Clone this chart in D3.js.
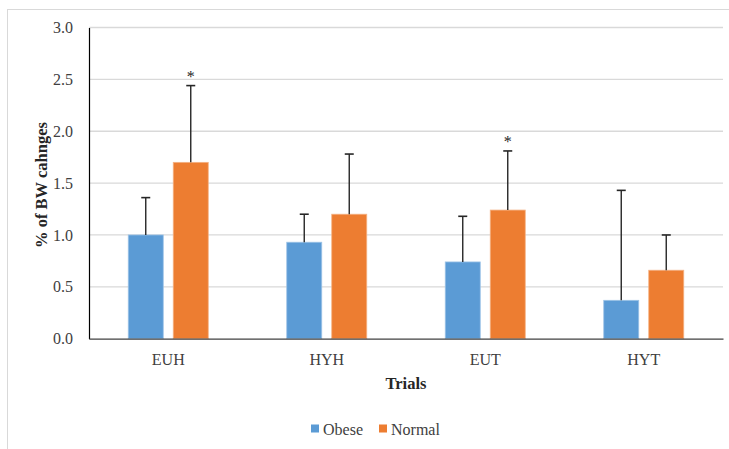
<!DOCTYPE html>
<html>
<head>
<meta charset="utf-8">
<script src="https://cdn.jsdelivr.net/npm/d3@7/dist/d3.min.js"></script>
<style>
  html, body { margin: 0; padding: 0; background: #fff; }
  svg { display: block; }
</style>
</head>
<body>
<svg id="chart" width="729" height="449"></svg>
<script>
// Trial categories and series
const trials = ["EUH", "HYH", "EUT", "HYT"];
const seriesNames = ["Obese", "Normal"];
const obeseMean = [1.00, 0.93, 0.74, 0.37];
const obeseUpper = [1.36, 1.20, 1.18, 1.43];
const normalMean = [1.70, 1.20, 1.24, 0.66];
const normalUpper = [2.44, 1.78, 1.81, 1.00];
const significant = [true, false, true, false]; // marks on Normal bars
const yTicks = [0, 0.5, 1.0, 1.5, 2.0, 2.5, 3.0];

const colors = { Obese: "#5B9BD5", Normal: "#ED7D31" };

const rows = trials.map((t, i) => ({
  trial: t,
  values: [
    { series: "Obese", mean: obeseMean[i], upper: obeseUpper[i], star: false },
    { series: "Normal", mean: normalMean[i], upper: normalUpper[i], star: significant[i] }
  ]
}));

const svg = d3.select("#chart");
const fontFamily = "'Liberation Serif', 'Times New Roman', serif";

// outer frame
svg.append("rect")
  .attr("x", 7.5).attr("y", 9.5)
  .attr("width", 740).attr("height", 460)
  .attr("fill", "none").attr("stroke", "#d9d9d9").attr("stroke-width", 1);

const plot = { left: 89, right: 723, top: 27.5, bottom: 338.7 };

const x0 = d3.scaleBand().domain(trials).range([plot.left, plot.right]).paddingInner(0).paddingOuter(0);
const barW = 35, gap = 10;
const x1 = d3.scaleBand().domain(seriesNames).range([0, barW * 2 + gap]).paddingInner(gap / (barW + gap)).paddingOuter(0);
const innerOffset = (x0.bandwidth() - (barW * 2 + gap)) / 2;

const y = d3.scaleLinear().domain([0, 3]).range([plot.bottom, plot.top]);

// gridlines
svg.append("g")
  .selectAll("line")
  .data(yTicks.filter(d => d > 0))
  .join("line")
  .attr("x1", plot.left).attr("x2", plot.right)
  .attr("y1", d => y(d)).attr("y2", d => y(d))
  .attr("stroke", "#d9d9d9").attr("stroke-width", 1.3);

// y axis
const yAxis = svg.append("g")
  .attr("transform", `translate(${plot.left},0)`)
  .call(d3.axisLeft(y).tickValues(yTicks).tickFormat(d3.format(".1f")).tickSize(0).tickPadding(16));
yAxis.select(".domain").attr("stroke", "#000").attr("stroke-width", 1.2);
yAxis.selectAll("text")
  .attr("font-family", fontFamily).attr("font-size", 16).attr("fill", "#404040");

// bars
const groups = svg.append("g").selectAll("g")
  .data(rows)
  .join("g")
  .attr("transform", d => `translate(${x0(d.trial) + innerOffset},0)`);

groups.selectAll("rect")
  .data(d => d.values)
  .join("rect")
  .attr("x", d => x1(d.series))
  .attr("width", x1.bandwidth())
  .attr("y", d => y(d.mean))
  .attr("height", d => y(0) - y(d.mean))
  .attr("fill", d => colors[d.series])
  .attr("stroke", d => d.series === "Obese" ? "#9cc3e6" : "#f4b183")
  .attr("stroke-width", 0.8);

// error bars (upper only)
const errs = groups.selectAll("g.err")
  .data(d => d.values)
  .join("g")
  .attr("class", "err");
errs.append("line")
  .attr("x1", d => x1(d.series) + x1.bandwidth() / 2)
  .attr("x2", d => x1(d.series) + x1.bandwidth() / 2)
  .attr("y1", d => y(d.mean))
  .attr("y2", d => y(d.upper))
  .attr("stroke", "#262626").attr("stroke-width", 1.4);
errs.append("line")
  .attr("x1", d => x1(d.series) + x1.bandwidth() / 2 - 4.5)
  .attr("x2", d => x1(d.series) + x1.bandwidth() / 2 + 4.5)
  .attr("y1", d => y(d.upper))
  .attr("y2", d => y(d.upper))
  .attr("stroke", "#262626").attr("stroke-width", 1.6);

// significance marks
errs.filter(d => d.star)
  .append("text")
  .attr("x", d => x1(d.series) + x1.bandwidth() / 2)
  .attr("y", d => y(d.upper) - 4)
  .attr("text-anchor", "middle")
  .attr("font-family", fontFamily).attr("font-size", 16).attr("fill", "#262626")
  .text("*");

// x axis
const xAxis = svg.append("g")
  .attr("transform", `translate(0,${plot.bottom})`)
  .call(d3.axisBottom(x0).tickSize(0).tickPadding(15));
xAxis.select(".domain").attr("stroke", "#404040").attr("stroke-width", 1.3);
xAxis.selectAll("text")
  .attr("font-family", fontFamily).attr("font-size", 16).attr("fill", "#404040");

// axis titles
svg.append("text")
  .attr("x", (plot.left + plot.right) / 2).attr("y", 389)
  .attr("text-anchor", "middle")
  .attr("font-family", fontFamily).attr("font-size", 16.5).attr("font-weight", "bold").attr("fill", "#262626")
  .text("Trials");

svg.append("text")
  .attr("transform", `translate(47,185) rotate(-90)`)
  .attr("text-anchor", "middle")
  .attr("font-family", fontFamily).attr("font-size", 16.5).attr("font-weight", "bold").attr("fill", "#262626")
  .text("% of BW cahnges");

// legend
const legendItems = [
  { name: "Obese", x: 311 },
  { name: "Normal", x: 379 }
];
const legend = svg.append("g").selectAll("g")
  .data(legendItems)
  .join("g")
  .attr("transform", d => `translate(${d.x},424.5)`);
legend.append("rect")
  .attr("width", 8).attr("height", 8)
  .attr("fill", d => colors[d.name]);
legend.append("text")
  .attr("x", 12).attr("y", 10)
  .attr("font-family", fontFamily).attr("font-size", 16).attr("fill", "#404040")
  .text(d => d.name);
</script>
</body>
</html>
